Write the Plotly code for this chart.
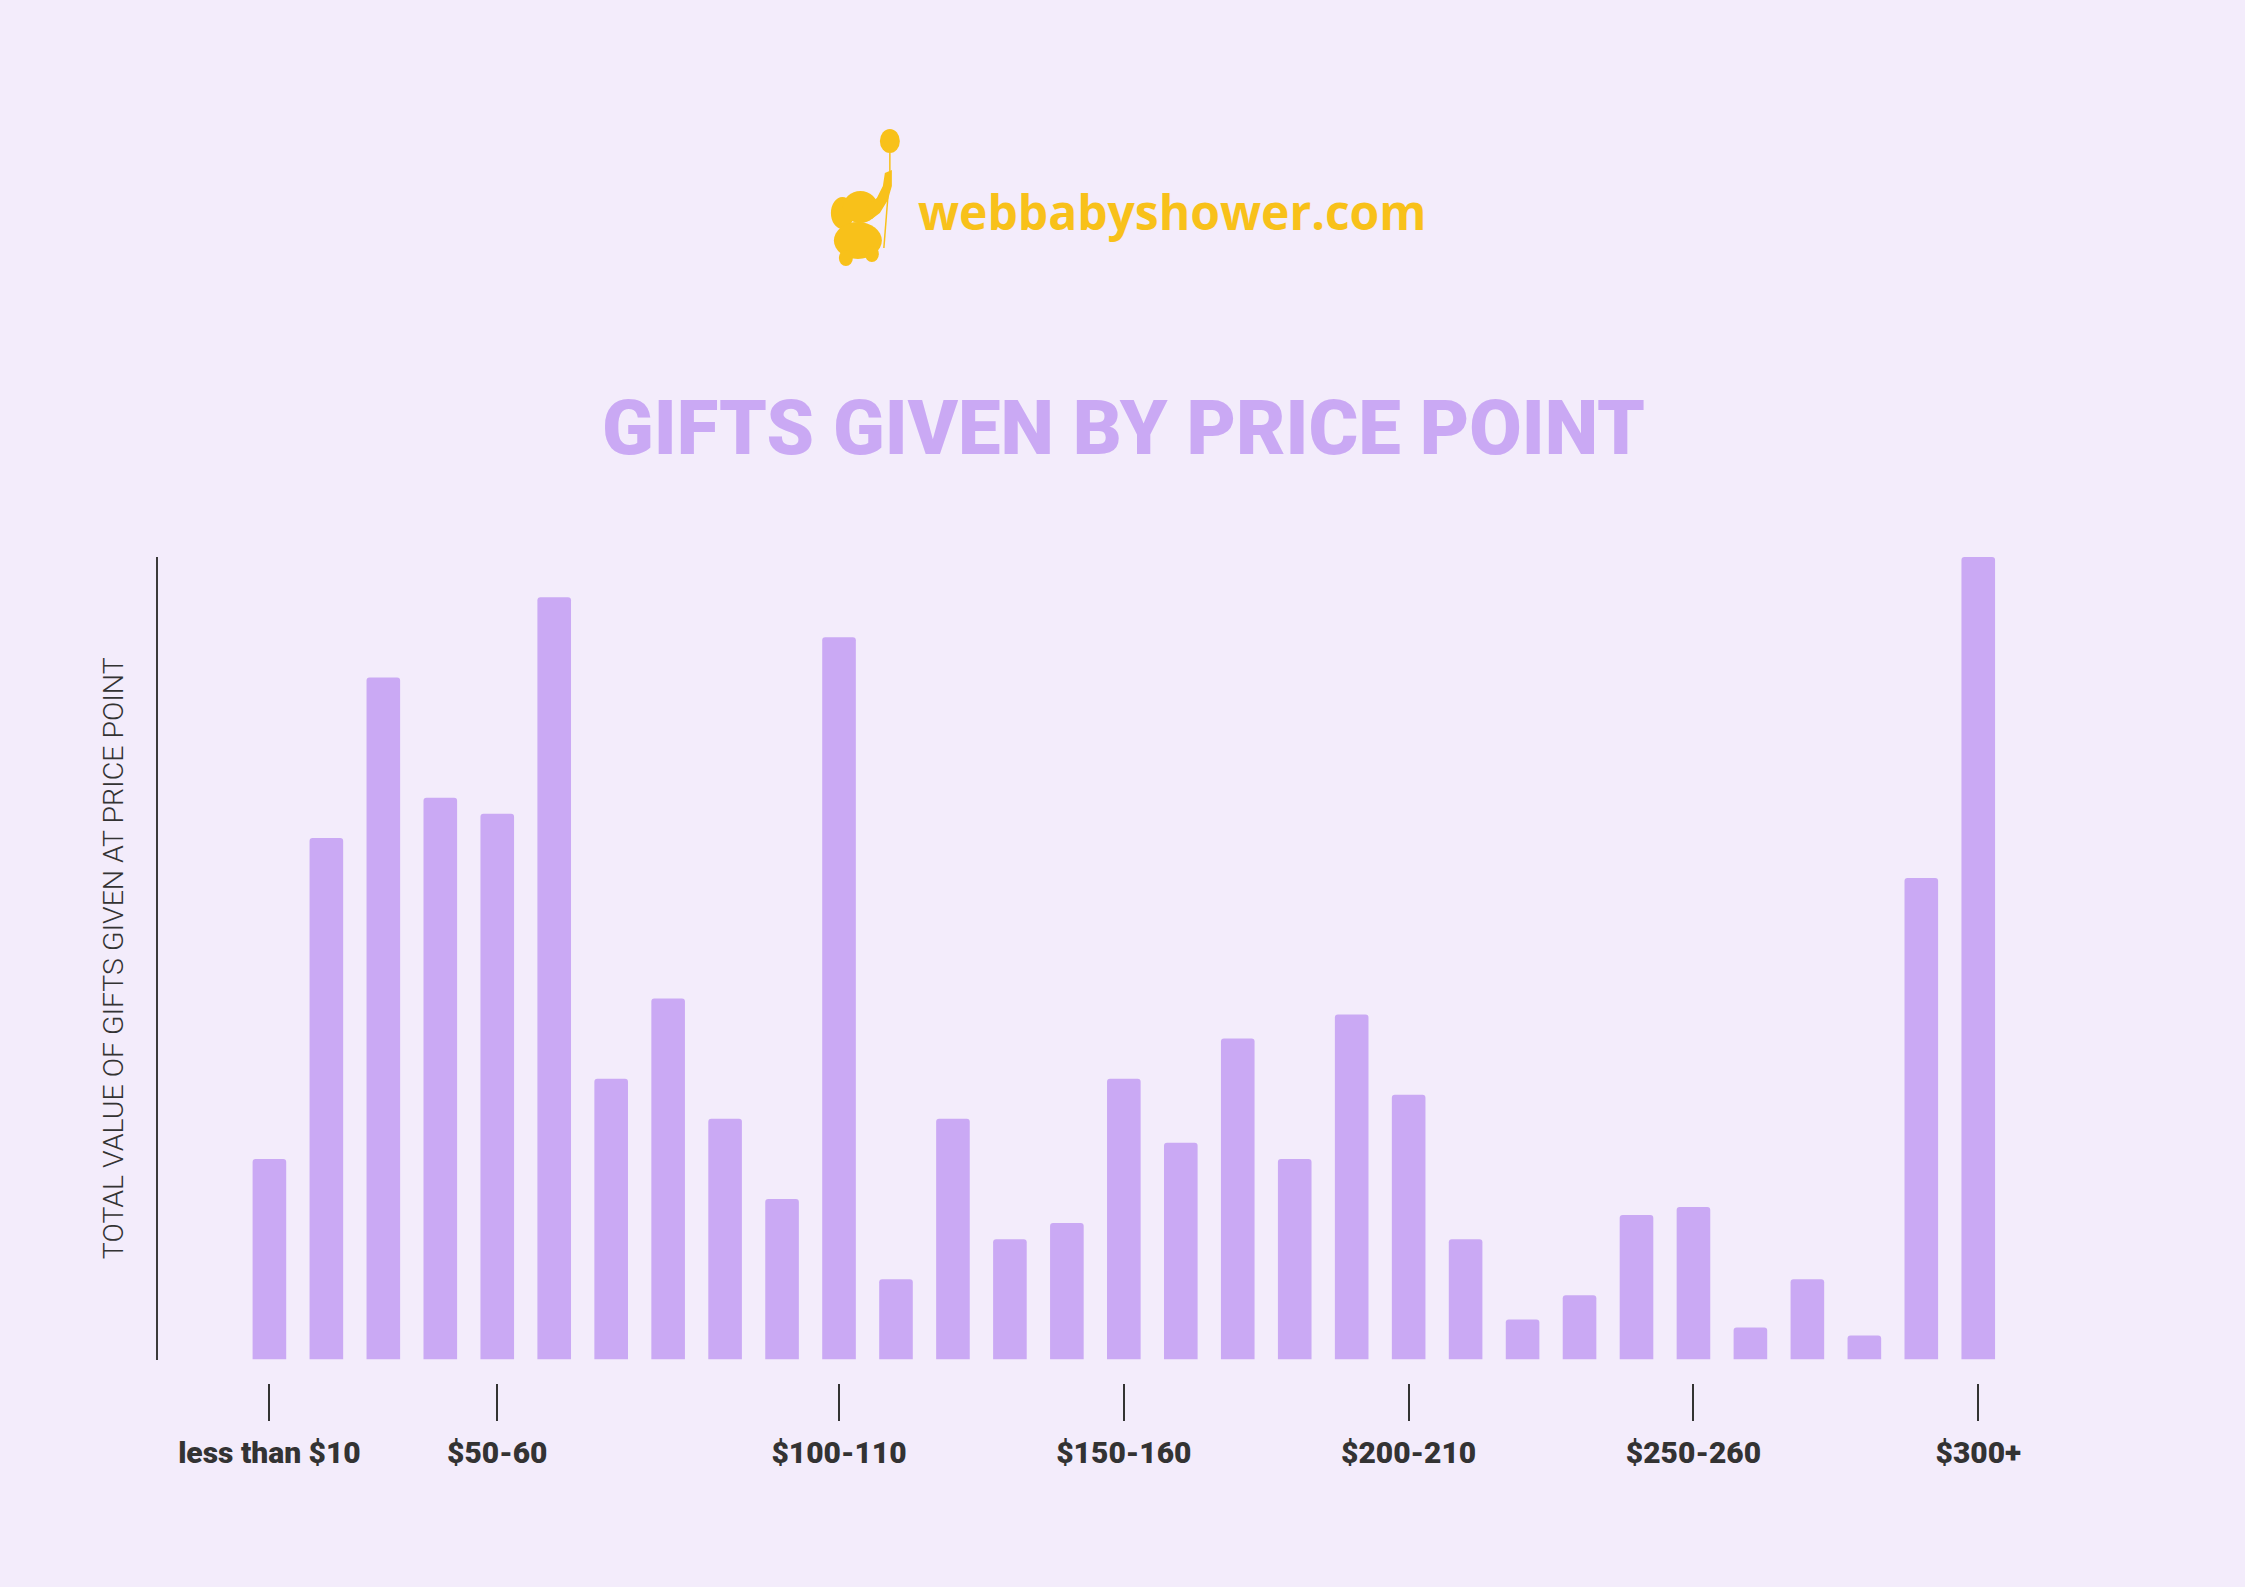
import plotly.graph_objects as go

W, H = 2245, 1587
# the captured page comes out about 0.56% narrower than the figure, so x positions are stretched back
X_SCALE, X_SHIFT = 0.9944, 1.43

categories = ['less than $10', '$10-20', '$20-30', '$30-40', '$40-50', '$50-60',
              '$60-70', '$70-80', '$80-90', '$90-100', '$100-110', '$110-120',
              '$120-130', '$130-140', '$140-150', '$150-160', '$160-170', '$170-180',
              '$180-190', '$190-200', '$200-210', '$210-220', '$220-230', '$230-240',
              '$240-250', '$250-260', '$260-270', '$270-280', '$280-290', '$290-300',
              '$300+']
values = [25, 65, 85, 70, 68, 95, 35, 45, 30, 20, 90, 10, 30, 15, 17, 35,
          27, 40, 25, 43, 33, 15, 5, 8, 18, 19, 4, 10, 3, 60, 100]

tick_positions = [0, 4, 10, 15, 20, 25, 30]
tick_labels = ['less than $10', '$50-60', '$100-110', '$150-160', '$200-210', '$250-260', '$300+']

bg = '#f3ecfb'
lavender = '#caa9f4'
yellow = '#f8c11a'
dark = '#333333'


def fx(x):
    return (x + X_SHIFT) / X_SCALE / W


def fy(y):
    return 1 - y / H


def px(x, y):
    # target pixels -> paper fraction (margins are zero, so paper == canvas)
    return fx(x), fy(y)


def circle(x0, y0, x1, y1):
    a, b = px(x0, y1)
    c, d = px(x1, y0)
    return dict(type='circle', xref='paper', yref='paper', x0=a, y0=b, x1=c, y1=d,
                fillcolor=yellow, line=dict(width=0), layer='above')


def poly(points):
    parts = []
    for i, (x, y) in enumerate(points):
        a, b = px(x, y)
        parts.append(('M' if i == 0 else 'L') + f' {a:.5f} {b:.5f}')
    return dict(type='path', xref='paper', yref='paper', path=' '.join(parts) + ' Z',
                fillcolor=yellow, line=dict(width=0), layer='above')


fig = go.Figure()

fig.add_bar(x=list(range(len(categories))),
            y=values,
            width=0.59,
            hovertext=categories,
            hoverinfo='text+y',
            marker=dict(color=lavender, line=dict(width=0), cornerradius=3),
            showlegend=False,
            name='')

# logo: balloon + string + elephant silhouette
s1 = px(889, 153)
s2 = px(889, 172)
s3 = px(883, 248)
logo_shapes = [
    dict(type='line', xref='paper', yref='paper', x0=s1[0], y0=s1[1], x1=s2[0], y1=s2[1],
         line=dict(color=yellow, width=1.5), layer='above'),
    dict(type='line', xref='paper', yref='paper', x0=s2[0], y0=s2[1], x1=s3[0], y1=s3[1],
         line=dict(color=yellow, width=1.5), layer='above'),
    circle(879, 129, 899, 153),
    circle(830, 197, 853, 229),
    circle(842, 191, 877, 223),
    poly([(866, 206), (876, 198), (882, 186), (884, 173), (891, 170), (891, 186),
          (887, 200), (879, 213), (871, 219)]),
    circle(833, 222, 881, 259),
    circle(838, 250, 852, 266),
    circle(864, 246, 878, 262),
]

fig.update_layout(
    width=W, height=H,
    margin=dict(l=0, r=0, t=0, b=0),
    paper_bgcolor=bg,
    plot_bgcolor=bg,
    bargap=0.41,
    xaxis=dict(domain=[fx(157), fx(2006.6)],
               range=[-1.95, 30.5],
               anchor='free',
               position=fy(1383),
               tickmode='array',
               tickvals=tick_positions,
               ticktext=tick_labels,
               ticks='outside',
               ticklen=37,
               tickwidth=2,
               tickcolor=dark,
               ticklabelstandoff=6,
               tickfont=dict(family='Roboto', size=30, color=dark, weight=900),
               showline=False, showgrid=False, zeroline=False),
    yaxis=dict(domain=[fy(1359.5), fy(557)],
               range=[0, 100],
               showline=True, linecolor='#3b3b3b', linewidth=2,
               showticklabels=False, ticks='',
               showgrid=False, zeroline=False,
               title=dict(text='TOTAL VALUE OF GIFTS GIVEN AT PRICE POINT',
                          font=dict(family='Roboto', size=28.5, color=dark, weight=300),
                          standoff=24)),
    shapes=logo_shapes,
    annotations=[
        dict(text='GIFTS GIVEN BY PRICE POINT', xref='paper', yref='paper',
             x=fx(1123), y=fy(428), showarrow=False,
             xanchor='center', yanchor='middle',
             font=dict(family='Roboto', size=76, color=lavender, weight=900)),
        dict(text='webbabyshower.com', xref='paper', yref='paper',
             x=fx(915), y=fy(212), showarrow=False,
             xanchor='left', yanchor='middle',
             font=dict(family='Open Sans', size=48, color=yellow, weight=700)),
    ],
)

fig.write_html("out.html",
               config={'displayModeBar': False},
               post_script="document.body.style.margin='0';"
                           "document.body.style.background='" + bg + "';"
                           "document.documentElement.style.background='" + bg + "';"
                           "document.body.style.overflow='hidden';"
                           "document.documentElement.style.overflow='hidden';")
